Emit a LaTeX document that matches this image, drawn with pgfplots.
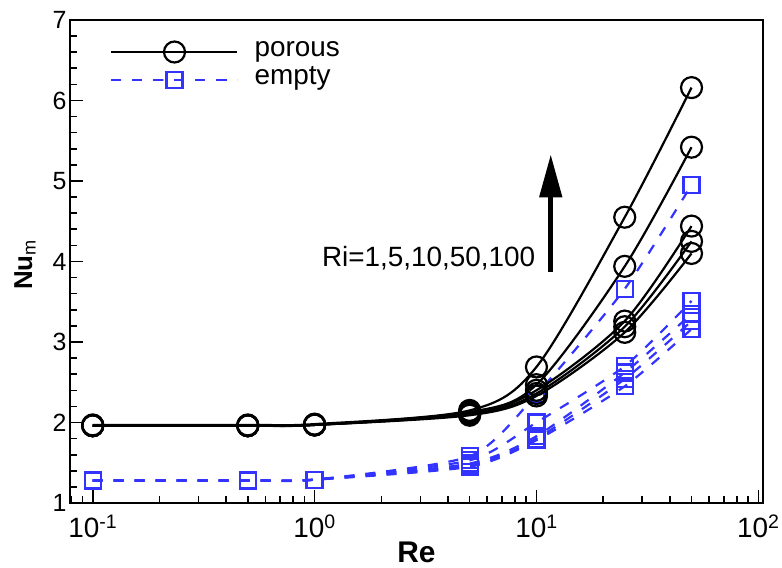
\documentclass[border=0pt]{standalone}
\usepackage{pgfplots}
\pgfplotsset{compat=1.18}
\usepackage{fontspec}
\setmainfont{Liberation Sans}
\usetikzlibrary{arrows.meta}
\definecolor{myblue}{RGB}{51,51,255}
\begin{document}
\begin{tikzpicture}
\useasboundingbox (-70bp,-65bp) rectangle (712bp,503bp);
\begin{axis}[
  width=693bp, height=483bp, scale only axis,
  xmode=log, xmin=0.079, xmax=105, ymin=1, ymax=7,
  axis line style={line width=2bp},
  every tick/.style={black, line width=1.6bp},
  tick align=inside, xtick pos=lower, ytick pos=left,
  major tick length=13bp, minor tick length=7bp,
  ytick={1,2,3,4,5,6,7}, minor y tick num=4,
  xtick={0.1,1,10,100},
  xticklabels={10\textsuperscript{-1},10\textsuperscript{0},10\textsuperscript{1},10\textsuperscript{2}},
  minor xtick={0.08,0.09,0.2,0.3,0.4,0.5,0.6,0.7,0.8,0.9,2,3,4,5,6,7,8,9,20,30,40,50,60,70,80,90},
  /pgf/number format/assume math mode=true,
  yticklabel style={font=\fontsize{25}{29}\selectfont},
  xticklabel style={font=\fontsize{28}{32}\selectfont, anchor=base, yshift=-34bp},
  xlabel={\bfseries Re}, ylabel={\bfseries Nu\textsubscript{\mdseries m}},
  xlabel style={font=\fontsize{30}{34}\selectfont, at={(rel axis cs:0.5,-0.1222)}, anchor=base},
  ylabel style={font=\fontsize{26}{30}\selectfont, at={(rel axis cs:-0.0548,0.493)}, anchor=base},
  legend style={at={(rel axis cs:0.058,0.959)}, anchor=north west, draw=none, fill=none, inner sep=0pt,
    font=\fontsize{28}{30}\selectfont, row sep=4bp,
    nodes={text height=14bp, text depth=6bp, inner ysep=2bp}, cells={anchor=west}},
  legend image code/.code={\draw[mark repeat=2,mark phase=2] plot coordinates {(0bp,0bp) (63bp,0bp) (126bp,0bp)};},
  clip=false,
]
% porous
\addplot[black, line width=2.2bp, smooth, mark=o, mark size=10.5bp, mark options={solid, line width=2.2bp}]
 coordinates {(0.1,1.97) (0.5,1.97) (1,1.98) (5,2.15) (10,2.69) (25,4.55) (50,6.16)};
\addlegendentry{\hspace{14bp}porous}
\addplot[myblue, line width=2.2bp, dash pattern=on 10bp off 11bp, smooth, tension=0.4, mark=square, mark size=8bp, mark options={solid, line width=2.2bp}]
 coordinates {(0.1,1.28) (0.5,1.28) (1,1.29) (5,1.58) (10,2.35) (25,3.66) (50,4.95)};
\addlegendentry{\hspace{14bp}empty}
\addplot[black, line width=2.2bp, smooth, mark=o, mark size=10.5bp, mark options={solid, line width=2.2bp}, forget plot]
 coordinates {(0.1,1.96) (0.5,1.96) (1,1.97) (5,2.13) (10,2.47) (25,3.94) (50,5.42)};
\addplot[black, line width=2.2bp, smooth, mark=o, mark size=10.5bp, mark options={solid, line width=2.2bp}, forget plot]
 coordinates {(0.1,1.96) (0.5,1.96) (1,1.97) (5,2.11) (10,2.40) (25,3.26) (50,4.44)};
\addplot[black, line width=2.2bp, smooth, mark=o, mark size=10.5bp, mark options={solid, line width=2.2bp}, forget plot]
 coordinates {(0.1,1.96) (0.5,1.96) (1,1.97) (5,2.10) (10,2.36) (25,3.19) (50,4.25)};
\addplot[black, line width=2.2bp, smooth, mark=o, mark size=10.5bp, mark options={solid, line width=2.2bp}, forget plot]
 coordinates {(0.1,1.96) (0.5,1.96) (1,1.97) (5,2.09) (10,2.33) (25,3.12) (50,4.10)};
% empty
\addplot[myblue, line width=2.2bp, dash pattern=on 10bp off 11bp, smooth, tension=0.4, mark=square, mark size=8bp, mark options={solid, line width=2.2bp}, forget plot]
 coordinates {(0.1,1.28) (0.5,1.28) (1,1.29) (5,1.53) (10,2.00) (25,2.70) (50,3.51)};
\addplot[myblue, line width=2.2bp, dash pattern=on 10bp off 11bp, smooth, tension=0.4, mark=square, mark size=8bp, mark options={solid, line width=2.2bp}, forget plot]
 coordinates {(0.1,1.28) (0.5,1.28) (1,1.29) (5,1.49) (10,1.83) (25,2.62) (50,3.35)};
\addplot[myblue, line width=2.2bp, dash pattern=on 10bp off 11bp, smooth, tension=0.4, mark=square, mark size=8bp, mark options={solid, line width=2.2bp}, forget plot]
 coordinates {(0.1,1.28) (0.5,1.28) (1,1.29) (5,1.47) (10,1.80) (25,2.54) (50,3.26)};
\addplot[myblue, line width=2.2bp, dash pattern=on 10bp off 11bp, smooth, tension=0.4, mark=square, mark size=8bp, mark options={solid, line width=2.2bp}, forget plot]
 coordinates {(0.1,1.28) (0.5,1.28) (1,1.29) (5,1.45) (10,1.78) (25,2.45) (50,3.16)};
\draw[-{Triangle[length=43bp,width=22bp]}, line width=5bp] (axis cs:11.6,3.87) -- (axis cs:11.6,5.33);
\node[anchor=east, font=\fontsize{28}{32}\selectfont, inner sep=0pt] at (axis cs:9.9,4.04) {Ri=1,5,10,50,100};
\end{axis}
\end{tikzpicture}
\end{document}
